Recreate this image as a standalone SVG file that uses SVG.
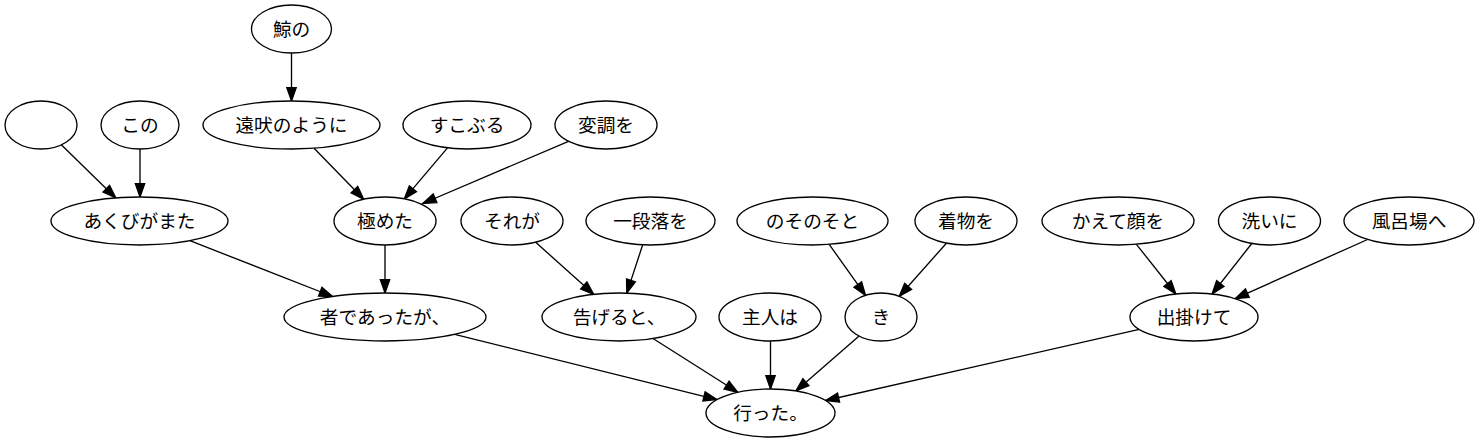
<svg xmlns="http://www.w3.org/2000/svg" width="1479" height="443" viewBox="0 0 1479 443">
<style>
.n ellipse{fill:#fff;stroke:#000;stroke-width:1.33}
.n text{font-family:"Noto Sans CJK JP","Noto Sans",sans-serif;font-size:18.7px;text-anchor:middle;fill:#000}
#edges line{stroke:#000;stroke-width:1.33;marker-end:url(#ah)}
</style>
<defs>
<marker id="ah" markerUnits="userSpaceOnUse" markerWidth="16" markerHeight="12" refX="13.3" refY="4.67" orient="auto" overflow="visible">
<path d="M0,0 L13.3,4.67 L0,9.33 Z" fill="#000" stroke="#000" stroke-width="1.33"/>
</marker>
</defs>
<rect width="1479" height="443" fill="#fff"/>
<g id="edges">
<line x1="291.5" y1="53" x2="291.5" y2="101"/>
<line x1="61.3" y1="144.8" x2="115.8" y2="197.9"/>
<line x1="140" y1="149" x2="140" y2="197"/>
<line x1="314.1" y1="148.2" x2="363.7" y2="199.2"/>
<line x1="447.5" y1="147.9" x2="404.3" y2="198.9"/>
<line x1="568.5" y1="141.3" x2="422.8" y2="203.5"/>
<line x1="189.9" y1="240.7" x2="332.6" y2="296.5"/>
<line x1="385" y1="245" x2="385" y2="293"/>
<line x1="535.7" y1="242.3" x2="593.7" y2="294.3"/>
<line x1="642.7" y1="244.8" x2="626.8" y2="293.1"/>
<line x1="829.2" y1="244.4" x2="865.5" y2="295.3"/>
<line x1="946.4" y1="243.2" x2="899.3" y2="296.3"/>
<line x1="1136.4" y1="244.3" x2="1175.8" y2="294"/>
<line x1="1251.8" y1="243.5" x2="1212.1" y2="294"/>
<line x1="1367.6" y1="239.5" x2="1235.2" y2="298.6"/>
<line x1="454.7" y1="334.4" x2="716.9" y2="399.6"/>
<line x1="653" y1="338.5" x2="737.8" y2="392.3"/>
<line x1="770.5" y1="341" x2="770.5" y2="389"/>
<line x1="859.1" y1="336" x2="795.9" y2="390.9"/>
<line x1="1139.2" y1="329.4" x2="825.6" y2="400.5"/>
</g>
<g id="n_kujira" class="n"><ellipse cx="291.5" cy="29" rx="40" ry="24"/><text x="291.5" y="35.5">鯨の</text></g>
<g id="n_empty" class="n"><ellipse cx="41" cy="125" rx="36" ry="24"/></g>
<g id="n_kono" class="n"><ellipse cx="140" cy="125" rx="39" ry="24"/><text x="140" y="131.5">この</text></g>
<g id="n_tooboe" class="n"><ellipse cx="291.5" cy="125" rx="88.5" ry="24"/><text x="291.5" y="131.5">遠吠のように</text></g>
<g id="n_sukoburu" class="n"><ellipse cx="467" cy="125" rx="64" ry="24"/><text x="467" y="131.5">すこぶる</text></g>
<g id="n_henchou" class="n"><ellipse cx="606" cy="125" rx="51" ry="24"/><text x="606" y="131.5">変調を</text></g>
<g id="n_akubi" class="n"><ellipse cx="139.5" cy="221" rx="88.5" ry="24"/><text x="139.5" y="227.5">あくびがまた</text></g>
<g id="n_kiwameta" class="n"><ellipse cx="385" cy="221" rx="51" ry="24"/><text x="385" y="227.5">極めた</text></g>
<g id="n_sorega" class="n"><ellipse cx="512" cy="221" rx="51" ry="24"/><text x="512" y="227.5">それが</text></g>
<g id="n_ichidanraku" class="n"><ellipse cx="650.5" cy="221" rx="64.5" ry="24"/><text x="650.5" y="227.5">一段落を</text></g>
<g id="n_nosonoso" class="n"><ellipse cx="812.5" cy="221" rx="75.5" ry="24"/><text x="812.5" y="227.5">のそのそと</text></g>
<g id="n_kimono" class="n"><ellipse cx="966" cy="221" rx="51" ry="24"/><text x="966" y="227.5">着物を</text></g>
<g id="n_kaete" class="n"><ellipse cx="1118" cy="221" rx="76" ry="24"/><text x="1118" y="227.5">かえて顔を</text></g>
<g id="n_arai" class="n"><ellipse cx="1269.5" cy="221" rx="51" ry="24"/><text x="1269.5" y="227.5">洗いに</text></g>
<g id="n_furoba" class="n"><ellipse cx="1409" cy="221" rx="65" ry="24"/><text x="1409" y="227.5">風呂場へ</text></g>
<g id="n_mono" class="n"><ellipse cx="385" cy="317" rx="101" ry="24"/><text x="385" y="323.5">者であったが、</text></g>
<g id="n_tsugeru" class="n"><ellipse cx="619" cy="317" rx="77" ry="24"/><text x="619" y="323.5">告げると、</text></g>
<g id="n_shujin" class="n"><ellipse cx="770" cy="317" rx="51" ry="24"/><text x="770" y="323.5">主人は</text></g>
<g id="n_ki" class="n"><ellipse cx="881" cy="317" rx="36" ry="24"/><text x="881" y="323.5">き</text></g>
<g id="n_dekakete" class="n"><ellipse cx="1194" cy="317" rx="64" ry="24"/><text x="1194" y="323.5">出掛けて</text></g>
<g id="n_itta" class="n"><ellipse cx="770.5" cy="413" rx="64.5" ry="24"/><text x="770.5" y="419.5">行った。</text></g>
</svg>
